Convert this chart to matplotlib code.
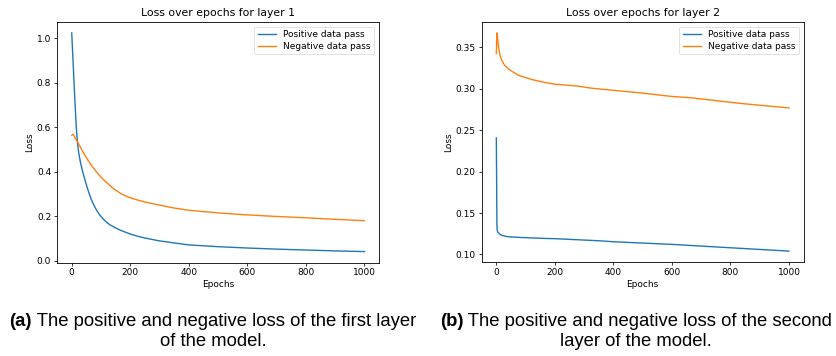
import matplotlib
matplotlib.use("Agg")
import matplotlib.pyplot as plt

# Layer 1 data
l1_pos_epochs = [0, 3, 6, 9, 12, 15, 18, 21, 24, 28, 32, 36, 40, 46, 52, 60, 68, 76, 85, 95, 105,
                 118, 130, 146, 165, 180, 200, 225, 250, 300, 349, 400, 500, 600, 700, 800, 900, 1000]
l1_pos_loss = [1.025, 0.94, 0.855, 0.77, 0.69, 0.615, 0.555, 0.515, 0.485, 0.455, 0.43, 0.408, 0.388,
               0.36, 0.333, 0.30, 0.272, 0.249, 0.227, 0.207, 0.191, 0.174, 0.162, 0.15, 0.138, 0.13,
               0.12, 0.11, 0.102, 0.089, 0.080, 0.071, 0.063, 0.057, 0.052, 0.048, 0.044, 0.041]

l1_neg_epochs = [0, 3, 6, 10, 15, 20, 30, 40, 56, 70, 90, 105, 124, 145, 169, 185, 200, 225, 247,
                 275, 300, 350, 400, 500, 600, 700, 800, 900, 1000]
l1_neg_loss = [0.564, 0.568, 0.566, 0.556, 0.545, 0.534, 0.51, 0.486, 0.451, 0.424, 0.391, 0.369,
               0.346, 0.322, 0.301, 0.291, 0.283, 0.273, 0.265, 0.257, 0.250, 0.237, 0.227, 0.215,
               0.206, 0.199, 0.193, 0.186, 0.180]

# Layer 2 data
l2_pos_epochs = [0, 1, 2, 3, 5, 10, 17, 28, 40, 80, 166, 200, 349, 400, 600, 800, 1000]
l2_pos_loss = [0.2407, 0.19, 0.135, 0.129, 0.127, 0.125, 0.1233, 0.1222, 0.1213, 0.1205, 0.1193,
               0.119, 0.1165, 0.1153, 0.1121, 0.108, 0.104]

l2_neg_epochs = [0, 1, 2, 3, 6, 11, 17, 28, 40, 51, 74, 120, 166, 200, 280, 321, 400, 492, 600,
                 663, 800, 834, 1000]
l2_neg_loss = [0.3428, 0.356, 0.3676, 0.365, 0.355, 0.343, 0.3355, 0.3286, 0.3246, 0.3217, 0.3166,
               0.3114, 0.3077, 0.3057, 0.3033, 0.301, 0.2982, 0.2952, 0.2908, 0.2893, 0.2838,
               0.2824, 0.277]

titles = ["Loss over epochs for layer 1", "Loss over epochs for layer 2"]
labels = ["Positive data pass", "Negative data pass"]
captions_bold = ["(a)", "(b)"]
captions_line1 = [" The positive and negative loss of the first layer",
                  " The positive and negative loss of the second"]
captions_line2 = ["of the model.", "layer of the model."]

W, H = 837, 356
fig = plt.figure(figsize=(W / 100, H / 100), dpi=100)

fs = 6.5
lw = 1.0
axes_px = [(57.1, 22, 321.9, 240.5), (481.7, 22, 321.9, 240)]
data = [((l1_pos_epochs, l1_pos_loss), (l1_neg_epochs, l1_neg_loss)),
        ((l2_pos_epochs, l2_pos_loss), (l2_neg_epochs, l2_neg_loss))]
for i, (x0, y0, w, h) in enumerate(axes_px):
    ax = fig.add_axes([x0 / W, 1 - (y0 + h) / H, w / W, h / H])
    (pe, pl), (ne, nl) = data[i]
    ax.plot(pe, pl, color="#1f77b4", lw=lw, label=labels[0])
    ax.plot(ne, nl, color="#ff7f0e", lw=lw, label=labels[1])
    ax.set_title(titles[i], fontsize=7.8, pad=4)
    ax.set_xlabel("Epochs", fontsize=fs, labelpad=2)
    ax.set_ylabel("Loss", fontsize=fs, labelpad=2)
    ax.set_xticks([0, 200, 400, 600, 800, 1000])
    ax.tick_params(labelsize=fs, length=2.3, width=0.55, pad=2)
    for s in ax.spines.values():
        s.set_linewidth(0.6)
    leg = ax.legend(fontsize=fs, loc="upper right", handlelength=2.0,
                    borderpad=0.4, labelspacing=0.3, fancybox=True, framealpha=0.8)
    leg.get_frame().set_linewidth(0.5)

cap_font = "Liberation Sans"
cfs = 13.3
centers = [213, 636]
for i, cx in enumerate(centers):
    t1 = fig.text(0, 0, captions_bold[i], fontsize=cfs, fontweight="bold", family=cap_font)
    t2 = fig.text(0, 0, captions_line1[i], fontsize=cfs, family=cap_font)
    fig.canvas.draw()
    r = fig.canvas.get_renderer()
    w1 = t1.get_window_extent(r).width
    w2 = t2.get_window_extent(r).width
    left = cx - (w1 + w2) / 2
    yl1 = 1 - 322 / H
    t1.set_position((left / W, yl1))
    t1.set_va("center")
    t2.set_position(((left + w1) / W, yl1))
    t2.set_va("center")
    fig.text(cx / W, 1 - 342 / H, captions_line2[i], fontsize=cfs, family=cap_font,
             ha="center", va="center")

fig.savefig("out.png", dpi=100)
